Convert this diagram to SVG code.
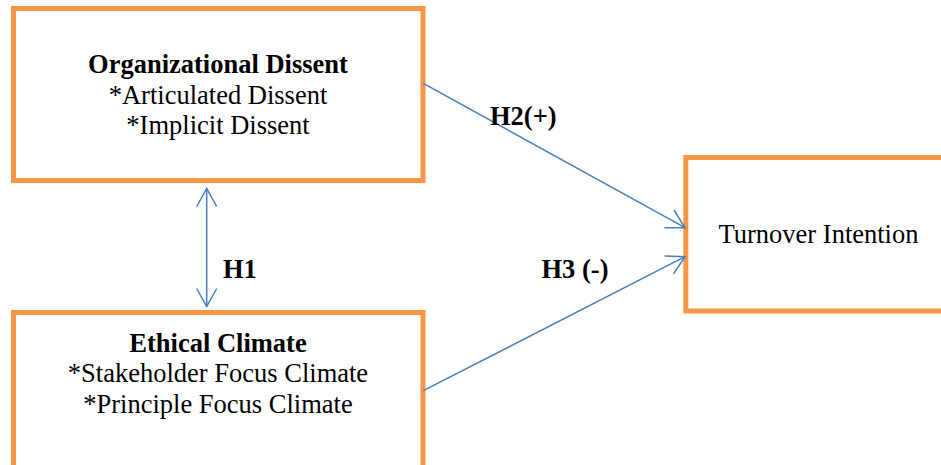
<svg xmlns="http://www.w3.org/2000/svg" width="941" height="465" viewBox="0 0 941 465">
<style>
.box{fill:#fff;stroke:#f79646;stroke-width:5}
.t{font-family:"Liberation Serif","Times New Roman",serif;font-size:26.5px;fill:#000;text-anchor:middle}
.b{font-weight:bold}
.lbl{font-family:"Liberation Serif","Times New Roman",serif;font-size:26.5px;font-weight:bold;fill:#000}
.c{fill:none;stroke:#4a7ebb;stroke-width:1.5}
</style>
<defs>
<marker id="arr" viewBox="-20 -12 22 24" refX="0" refY="0" markerWidth="22" markerHeight="24" markerUnits="userSpaceOnUse" orient="auto-start-reverse">
<path d="M-18,-10 L0,0 L-18,10" fill="none" stroke="#4a7ebb" stroke-width="1.5"/>
</marker>
</defs>
<rect width="941" height="465" fill="#fff"/>
<g id="node-dissent">
<rect class="box" x="13.5" y="8.5" width="409.5" height="172"/>
<text class="t b" x="218" y="73">Organizational Dissent</text>
<text class="t" x="218" y="104">*Articulated Dissent</text>
<text class="t" x="218" y="134">*Implicit Dissent</text>
</g>
<g id="node-climate">
<rect class="box" x="13.5" y="312.5" width="409.5" height="170"/>
<text class="t b" x="218" y="352">Ethical Climate</text>
<text class="t" x="218" y="382">*Stakeholder Focus Climate</text>
<text class="t" x="218" y="413">*Principle Focus Climate</text>
</g>
<g id="node-turnover">
<rect class="box" x="685.8" y="157.5" width="270" height="153.5"/>
<text class="t" x="818.5" y="243">Turnover Intention</text>
</g>
<g id="connectors">
<line class="c" x1="206.7" y1="188.5" x2="206.7" y2="306.5" marker-start="url(#arr)" marker-end="url(#arr)"/>
<line class="c" x1="423.3" y1="83.3" x2="685" y2="227.7" marker-end="url(#arr)"/>
<line class="c" x1="423.3" y1="390.7" x2="685" y2="256.7" marker-end="url(#arr)"/>
<text class="lbl" x="223" y="278">H1</text>
<text class="lbl" x="490" y="125">H2(+)</text>
<text class="lbl" x="541.5" y="278">H3 (-)</text>
</g>
</svg>
